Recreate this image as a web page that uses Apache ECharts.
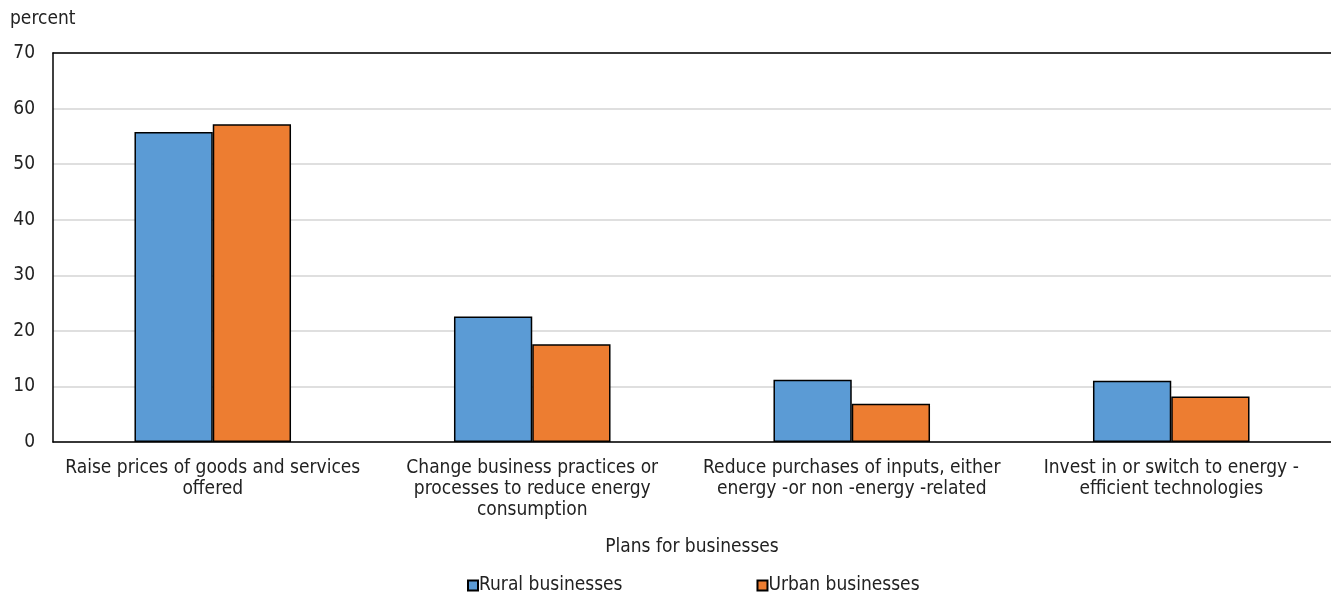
<!DOCTYPE html>
<html>
<head>
<meta charset="utf-8">
<script src="https://cdn.jsdelivr.net/npm/echarts@6/dist/echarts.min.js"></script>
<style>
  html, body { margin: 0; padding: 0; background: #fff; }
  #chart { width: 1331px; height: 594px; }
</style>
</head>
<body>
<div id="chart"></div>
<script>
// Plans for businesses in response to energy costs, by location
const categories = [
  'Raise prices of goods and services\noffered',
  'Change business practices or\nprocesses to reduce energy\nconsumption',
  'Reduce purchases of inputs, either\nenergy -or non -energy -related',
  'Invest in or switch to energy -\nefficient technologies'
];
const ruralValues = [55.8, 22.6, 11.2, 11.0];
const urbanValues = [57.2, 17.6, 6.9, 8.2];
const seriesNames = ['Rural businesses', 'Urban businesses'];
const yTicks = { min: 0, max: 70, interval: 10 };

const FONT = '"Liberation Sans Narrow", "DejaVu Sans Condensed", "Roboto", sans-serif';
const TEXT = '#222';
const SIZE = 19;

const chart = echarts.init(document.getElementById('chart'), null, { renderer: 'canvas' });

chart.setOption({
  animation: false,
  textStyle: { fontFamily: FONT },
  grid: { left: 53, right: -2, top: 53, bottom: 152 },
  graphic: [{
    type: 'text', left: 10, top: 10,
    style: { text: 'percent', font: SIZE + 'px ' + FONT, fill: TEXT }
  }],
  legend: {
    top: 571, left: 462,
    itemWidth: 10, itemHeight: 10, itemGap: 134,
    icon: 'rect',
    textStyle: { fontSize: SIZE, color: TEXT, fontFamily: FONT, padding: [0, 0, 0, -4] },
    data: seriesNames
  },
  xAxis: [
    {
      type: 'category',
      data: categories,
      name: 'Plans for businesses',
      nameLocation: 'middle',
      nameGap: 96,
      nameTextStyle: { fontSize: SIZE, color: TEXT, fontFamily: FONT },
      axisLine: { show: true, lineStyle: { color: '#000', width: 1.5 } },
      axisTick: { show: false },
      axisLabel: { fontSize: SIZE, color: TEXT, fontFamily: FONT, margin: 16, lineHeight: 21, interval: 0 }
    },
    {
      // top frame line of the plot area
      type: 'category',
      data: categories,
      position: 'top',
      axisLine: { show: true, lineStyle: { color: '#000', width: 1.5 } },
      axisTick: { show: false },
      axisLabel: { show: false }
    }
  ],
  yAxis: {
    type: 'value',
    min: yTicks.min, max: yTicks.max, interval: yTicks.interval,
    axisLine: { show: true, lineStyle: { color: '#000', width: 1.5 } },
    axisTick: { show: false },
    splitLine: { lineStyle: { color: '#d4d4d4', width: 1.5 } },
    axisLabel: { fontSize: SIZE, color: TEXT, fontFamily: FONT, margin: 18 }
  },
  series: [
    {
      name: seriesNames[0], type: 'bar', data: ruralValues,
      barGap: '0%', barCategoryGap: '51%',
      itemStyle: { color: '#5B9BD5', borderColor: '#000', borderWidth: 1.5 }
    },
    {
      name: seriesNames[1], type: 'bar', data: urbanValues,
      itemStyle: { color: '#ED7D31', borderColor: '#000', borderWidth: 1.5 }
    }
  ]
});
</script>
</body>
</html>
